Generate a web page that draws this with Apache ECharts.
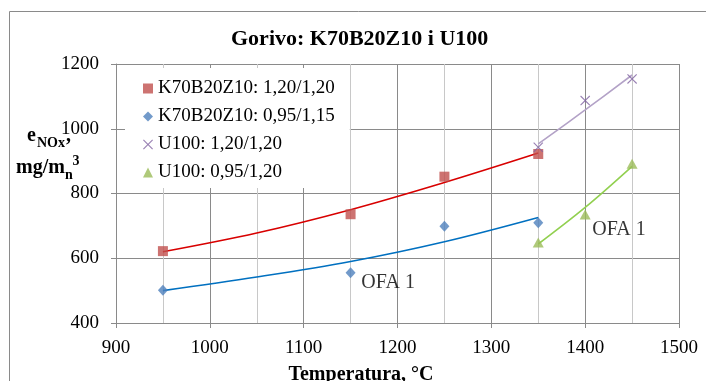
<!DOCTYPE html>
<html>
<head>
<meta charset="utf-8">
<script src="https://cdn.jsdelivr.net/npm/echarts@6/dist/echarts.min.js"></script>
<style>
  html, body { margin: 0; padding: 0; background: #ffffff; }
  #chart { width: 706px; height: 381px; }
</style>
</head>
<body>
<div id="chart"></div>
<script>
// Measured NOx emission vs. furnace temperature
const tempsK70 = [950, 1150, 1250, 1350];
const k70Rich = [622, 736, 852, 922];     // K70B20Z10: 1,20/1,20
const k70Lean = [501, 555, 699, 710];     // K70B20Z10: 0,95/1,15
const tempsU100 = [1350, 1400, 1450];
const u100Rich = [943, 1087, 1154];       // U100: 1,20/1,20
const u100Lean = [649, 735, 892];         // U100: 0,95/1,20

// Trend curves through each group
const trendTempsK70 = [950, 1050, 1150, 1250, 1350];
const trendK70Rich = [620, 678, 750, 834, 925];
const trendK70Lean = [500, 542, 590, 651, 726];
const trendTempsU100 = [1350, 1400, 1450];
const trendU100Rich = [953, 1058, 1166];
const trendU100Lean = [644, 757, 884];

const seriesNames = ['K70B20Z10: 1,20/1,20', 'K70B20Z10: 0,95/1,15', 'U100: 1,20/1,20', 'U100: 0,95/1,20'];
const chartTitle = 'Gorivo: K70B20Z10 i U100';
const xAxisTitle = 'Temperatura, °C';
const noteText = 'OFA 1';

const SERIF = "'Liberation Serif', 'Times New Roman', serif";
const GRID_DARK = '#8a8a8a';
const GRID_LIGHT = '#c8c8c8';

const pairs = (xs, ys) => xs.map((x, i) => [x, ys[i]]);
const plainNumber = v => String(v);

// thin filled "x" marker
const crossPath = 'path://M0,0.8L0.8,0L5,4.2L9.2,0L10,0.8L5.8,5L10,9.2L9.2,10L5,5.8L0.8,10L0,9.2L4.2,5Z';

const markerSeries = (name, data, symbol, size, color) => ({
  name, type: 'scatter', data, symbol, symbolSize: size,
  itemStyle: { color }, z: 4
});
const trendSeries = (data, color) => ({
  name: 'trend', type: 'line', data, smooth: 0.35, showSymbol: false, silent: true,
  lineStyle: { color, width: 1.6 }, z: 3
});

const chart = echarts.init(document.getElementById('chart'), null, { renderer: 'canvas' });

const option = {
  animation: false,
  backgroundColor: '#ffffff',
  title: {
    text: chartTitle, left: 231, top: 28, padding: 0,
    textStyle: { fontFamily: SERIF, fontSize: 22, fontWeight: 'bold', color: '#000' }
  },
  grid: { left: 116, top: 64, width: 563, height: 259, containLabel: false },
  legend: {
    data: seriesNames, orient: 'vertical', left: 125, top: 68,
    padding: [11, 15, 6, 18], itemGap: 9, itemWidth: 10, itemHeight: 10,
    backgroundColor: '#ffffff',
    textStyle: { fontFamily: SERIF, fontSize: 19, color: '#000' },
    selectedMode: false
  },
  xAxis: {
    type: 'value', min: 900, max: 1500, interval: 100,
    axisLine: { show: true, lineStyle: { color: GRID_DARK } },
    axisTick: { show: true, length: 5, lineStyle: { color: GRID_DARK } },
    axisLabel: { fontFamily: SERIF, fontSize: 19, color: '#000', margin: 16, formatter: plainNumber },
    splitLine: { show: true, lineStyle: { color: GRID_DARK } },
    minorTick: { show: false, splitNumber: 2 },
    minorSplitLine: { show: true, lineStyle: { color: GRID_LIGHT } }
  },
  yAxis: {
    type: 'value', min: 400, max: 1200, interval: 200,
    axisLine: { show: true, lineStyle: { color: GRID_DARK } },
    axisTick: { show: true, length: 5, lineStyle: { color: GRID_DARK } },
    axisLabel: { fontFamily: SERIF, fontSize: 19, color: '#000', margin: 17, formatter: plainNumber },
    splitLine: { show: true, lineStyle: { color: GRID_DARK } }
  },
  series: [
    trendSeries(pairs(trendTempsK70, trendK70Rich), '#d80000'),
    trendSeries(pairs(trendTempsK70, trendK70Lean), '#0070c0'),
    trendSeries(pairs(trendTempsU100, trendU100Rich), '#b3a2c7'),
    trendSeries(pairs(trendTempsU100, trendU100Lean), '#92d050'),
    markerSeries(seriesNames[0], pairs(tempsK70, k70Rich), 'rect', 10, '#c0504d'),
    markerSeries(seriesNames[1], pairs(tempsK70, k70Lean), 'diamond', [10, 11], '#4f81bd'),
    markerSeries(seriesNames[2], pairs(tempsU100, u100Rich), crossPath, 10, '#7f62a0'),
    markerSeries(seriesNames[3], pairs(tempsU100, u100Lean), 'triangle', [11, 10], '#9bbb59'),
    {
      // "OFA 1" notes next to the lean-combustion curves
      name: 'note', type: 'scatter', symbolSize: 0, silent: true, z: 5,
      data: [[1190, 523], [1436, 687]],
      label: {
        show: true, position: 'inside', formatter: noteText,
        fontFamily: SERIF, fontSize: 20, color: '#000'
      }
    }
  ],
  graphic: [
    {
      type: 'rect', silent: true, z: 0,
      shape: { x: 9.5, y: 11.5, width: 800, height: 500 },
      style: { fill: 'none', stroke: '#8a8a8a', lineWidth: 1 }
    },
    {
      type: 'text', x: 361, y: 375, silent: true,
      style: { text: xAxisTitle, font: "bold 20px " + SERIF, fill: '#000', align: 'center', verticalAlign: 'middle' }
    },
    // y-axis title: e_NOx, mg/m_n^3
    { type: 'text', x: 27, y: 135.5, silent: true,
      style: { text: 'e', font: "bold 20px " + SERIF, fill: '#000', align: 'left', verticalAlign: 'middle' } },
    { type: 'text', x: 37, y: 143, silent: true,
      style: { text: 'NOx', font: "bold 14px " + SERIF, fill: '#000', align: 'left', verticalAlign: 'middle' } },
    { type: 'text', x: 66, y: 135.5, silent: true,
      style: { text: ',', font: "bold 20px " + SERIF, fill: '#000', align: 'left', verticalAlign: 'middle' } },
    { type: 'text', x: 16, y: 167.5, silent: true,
      style: { text: 'mg/m', font: "bold 20px " + SERIF, fill: '#000', align: 'left', verticalAlign: 'middle' } },
    { type: 'text', x: 65, y: 175, silent: true,
      style: { text: 'n', font: "bold 14px " + SERIF, fill: '#000', align: 'left', verticalAlign: 'middle' } },
    { type: 'text', x: 72.5, y: 161, silent: true,
      style: { text: '3', font: "bold 14px " + SERIF, fill: '#000', align: 'left', verticalAlign: 'middle' } }
  ]
};

chart.setOption(option);
</script>
</body>
</html>
